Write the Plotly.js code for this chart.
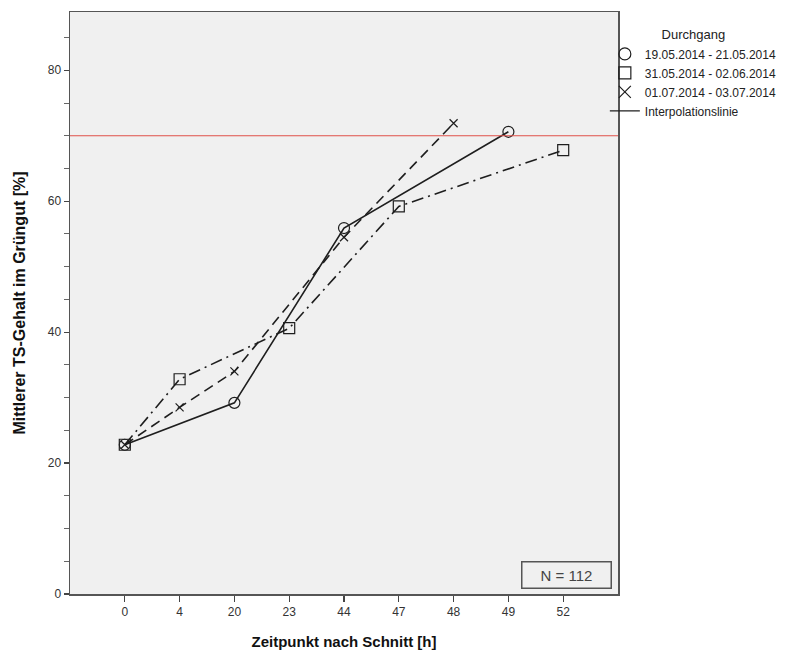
<!DOCTYPE html>
<html>
<head>
<meta charset="utf-8">
<script src="https://cdn.plot.ly/plotly-3.0.1.min.js"></script>
<style>
  html, body { margin: 0; padding: 0; background: #ffffff; }
  #chart { width: 811px; height: 660px; }
</style>
</head>
<body>
<div id="chart"></div>
<script>
// Time points after cutting (categorical axis, evenly spaced)
const timePoints = ['0', '4', '20', '23', '44', '47', '48', '49', '52'];

// Run 1: 19.05.2014 - 21.05.2014
const run1Name = '19.05.2014 - 21.05.2014';
const run1X = ['0', '20', '44', '49'];
const run1Y = [22.8, 29.2, 55.9, 70.6];

// Run 2: 31.05.2014 - 02.06.2014
const run2Name = '31.05.2014 - 02.06.2014';
const run2X = ['0', '4', '23', '47', '52'];
const run2Y = [22.8, 32.8, 40.6, 59.2, 67.8];

// Run 3: 01.07.2014 - 03.07.2014
const run3Name = '01.07.2014 - 03.07.2014';
const run3X = ['0', '4', '20', '44', '48'];
const run3Y = [22.8, 28.5, 34.0, 54.5, 71.9];

// Target dry matter content (reference line)
const targetLevel = 70;
const sampleSize = 112;

const ink = '#1e1e1e';
const fontFamily = 'Arial, "Liberation Sans", sans-serif';

function runTrace(x, y, dash, symbol, size) {
  return {
    x: x, y: y, type: 'scatter', mode: 'lines+markers',
    showlegend: false, hoverinfo: 'x+y',
    line: { color: ink, width: 1.6, dash: dash },
    marker: { symbol: symbol, size: size, color: ink, line: { color: '#333', width: 1.2 } }
  };
}

function legendEntry(name, mode, symbol, size) {
  return {
    x: [null], y: [null], type: 'scatter', mode: mode, name: name,
    showlegend: true, hoverinfo: 'skip',
    line: { color: ink, width: 1.4 },
    marker: { symbol: symbol, size: size, color: ink, line: { color: '#333', width: 1.2 } }
  };
}

const data = [
  runTrace(run1X, run1Y, 'solid', 'circle-open', 11),
  runTrace(run2X, run2Y, '12px,5px,2px,5px', 'square-open', 11),
  runTrace(run3X, run3Y, '10px,6px', 'x-thin-open', 8),
  legendEntry(run1Name, 'markers', 'circle-open', 12),
  legendEntry(run2Name, 'markers', 'square-open', 12),
  legendEntry(run3Name, 'markers', 'x-thin-open', 12),
  legendEntry('Interpolationslinie', 'lines', 'circle', 1)
];

const layout = {
  width: 811, height: 660,
  margin: { l: 70, r: 193, t: 12, b: 66 },
  paper_bgcolor: '#ffffff',
  plot_bgcolor: '#f0f0f0',
  font: { family: fontFamily, size: 12, color: '#333' },
  showlegend: true,
  legend: {
    x: 0.976, xanchor: 'left', y: 0.982, yanchor: 'top',
    bgcolor: 'rgba(0,0,0,0)',
    font: { family: fontFamily, size: 12, color: '#222' },
    title: { text: 'Durchgang', side: 'top center', font: { family: fontFamily, size: 13, color: '#222' } },
    itemwidth: 30
  },
  xaxis: {
    type: 'category',
    categoryorder: 'array', categoryarray: timePoints,
    range: [-1, 9],
    showgrid: false, zeroline: false,
    showline: true, mirror: true, linecolor: '#555', linewidth: 1.5,
    ticks: 'outside', ticklen: 6, tickcolor: '#444', tickwidth: 1.2,
    tickfont: { family: fontFamily, size: 12, color: '#333' },
    title: { text: 'Zeitpunkt nach Schnitt [h]', font: { family: fontFamily, size: 15, color: '#111', weight: 'bold' }, standoff: 18 }
  },
  yaxis: {
    range: [0, 88.9],
    dtick: 20, tick0: 0,
    showgrid: false, zeroline: false,
    showline: true, mirror: true, linecolor: '#555', linewidth: 1.5,
    ticks: 'outside', ticklen: 5, tickcolor: '#444', tickwidth: 1.2,
    minor: { dtick: 5, ticks: 'outside', ticklen: 5, tickcolor: '#666', tickwidth: 1, showgrid: false },
    tickfont: { family: fontFamily, size: 12, color: '#333' },
    title: { text: 'Mittlerer TS-Gehalt im Grüngut [%]', font: { family: fontFamily, size: 16, color: '#111', weight: 'bold' }, standoff: 18 }
  },
  shapes: [{
    type: 'line', xref: 'paper', x0: 0, x1: 1, yref: 'y', y0: targetLevel, y1: targetLevel,
    line: { color: '#e0504a', width: 1.2 }, layer: 'above'
  }],
  annotations: [{
    xref: 'paper', yref: 'paper', x: 0.989, y: 0.009, xanchor: 'right', yanchor: 'bottom',
    text: 'N = ' + sampleSize, showarrow: false,
    font: { family: fontFamily, size: 15, color: '#444' },
    width: 86, height: 23, align: 'center', valign: 'middle',
    bordercolor: '#555', borderwidth: 1.5, borderpad: 1, bgcolor: 'rgba(0,0,0,0)'
  }]
};

Plotly.newPlot('chart', data, layout, { displayModeBar: false, staticPlot: true });
</script>
</body>
</html>
